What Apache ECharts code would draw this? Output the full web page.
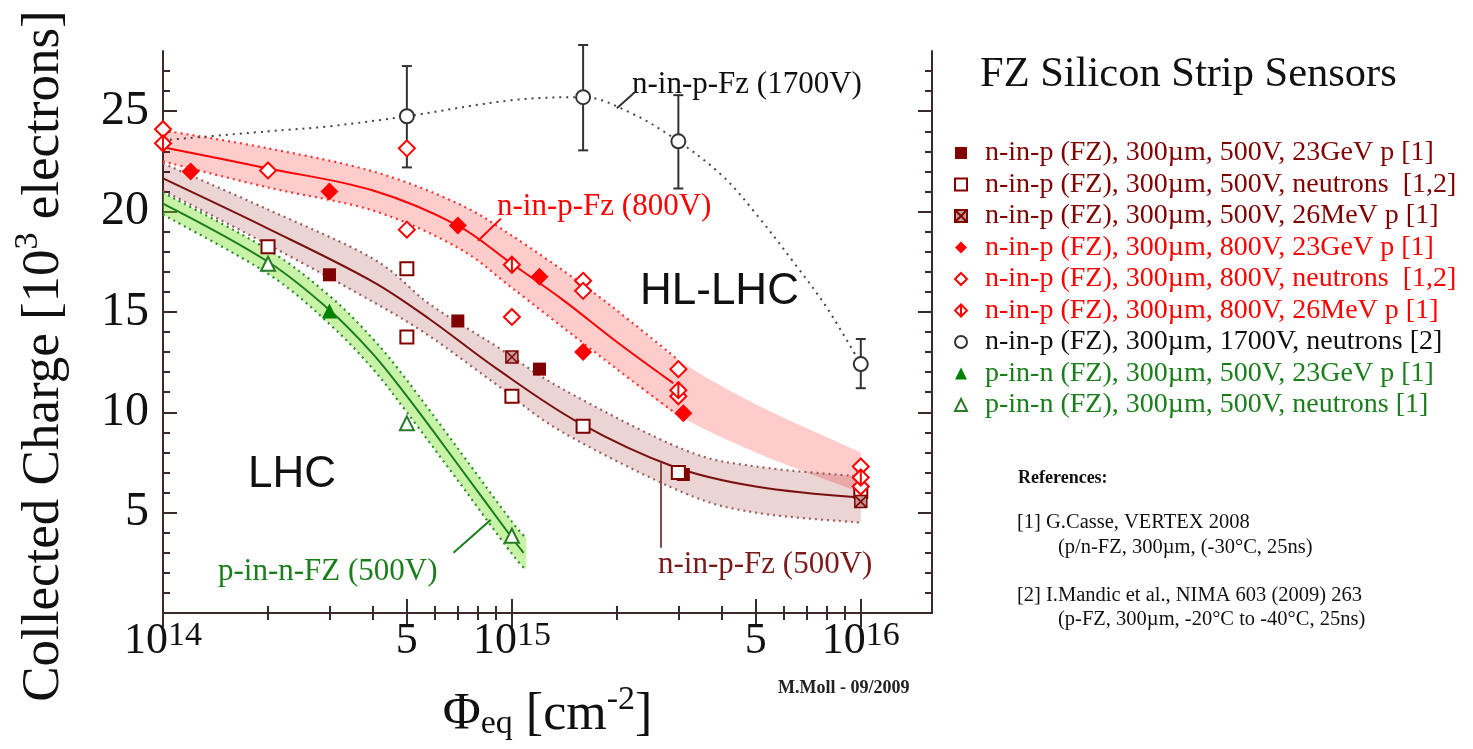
<!DOCTYPE html>
<html>
<head>
<meta charset="utf-8">
<script src="https://cdn.jsdelivr.net/npm/echarts@6/dist/echarts.min.js"></script>
<style>
html,body{margin:0;padding:0;background:#fff;}
#chart{width:1473px;height:749px;}
</style>
</head>
<body>
<div id="chart"></div>
<script>
// Fluence in cm^-2 (x), collected charge in 10^3 electrons (y)

// axis ticks
const xMajorTicks = [1e14, 5e14, 1e15, 5e15, 1e16];
const xMinorTicks = [2e14, 3e14, 4e14, 6e14, 7e14, 8e14, 9e14, 2e15, 3e15, 4e15, 6e15, 7e15, 8e15, 9e15];
const yMajorTicks = [5, 10, 15, 20, 25];
const yMinorTicks = [1, 2, 3, 4, 6, 7, 8, 9, 11, 12, 13, 14, 16, 17, 18, 19, 21, 22, 23, 24, 26, 27];

// measurements
const np500Proton  = [[3e14, 16.85], [7e14, 14.55], [1.2e15, 12.15], [3.1e15, 6.9]];
const np500Neutron = [[2e14, 18.25], [5e14, 17.15], [5e14, 13.75], [1e15, 10.8], [1.6e15, 9.3], [3e15, 7.0], [1e16, 6.05]];
const np500LowE    = [[1e15, 12.75], [1e16, 5.55]];
const np800Proton  = [[1.2e14, 22.0], [3e14, 21.0], [7e14, 19.3], [1.2e15, 16.75], [1.6e15, 13.0], [3.1e15, 9.95]];
const np800Neutron = [[1e14, 24.1], [2e14, 22.05], [5e14, 23.15], [5e14, 19.1], [1e15, 14.75], [1.6e15, 16.55], [1.6e15, 16.05], [3e15, 12.15], [3e15, 10.8], [1e16, 7.3], [1e16, 6.3]];
const np800LowE    = [[1e14, 23.4], [1e15, 17.35], [3e15, 11.1], [1e16, 6.75]];
const np1700Neutron = [[5e14, 24.75], [1.6e15, 25.7], [3e15, 23.5], [1e16, 12.4]];
const np1700ErrLow  = [22.2, 23.05, 21.15, 11.2];
const np1700ErrHigh = [27.25, 28.3, 25.8, 13.65];
const pn500Proton  = [[3e14, 15.05]];
const pn500Neutron = [[2e14, 17.4], [5e14, 9.45], [1e15, 3.85]];

// fitted curves and uncertainty bands
const fit800X = [1e14, 2e14, 4e14, 7e14, 1e15, 1.4e15, 2e15, 2.9e15];
const fit800Y = [23.2, 22.15, 21.05, 19.3, 17.4, 15.6, 13.5, 11.45];
const band800X  = [1e14, 2e14, 4e14, 7e14, 1e15, 1.6e15, 2.2e15, 3e15, 5e15, 1e16];
const band800Hi = [24.05, 23.15, 22.0, 20.4, 18.8, 16.35, 14.5, 12.6, 10.4, 8.0];
const band800Lo = [22.5, 21.2, 20.05, 18.2, 16.2, 13.45, 11.6, 9.85, 8.0, 6.0];

const fit500X = [1e14, 2e14, 4e14, 5.8e14, 9e14, 1.55e15, 2.9e15, 5e15, 1e16];
const fit500Y = [21.65, 19.15, 16.5, 14.65, 12.2, 9.5, 7.3, 6.3, 5.75];
const band500X  = [1e14, 2e14, 4e14, 5.8e14, 9e14, 1.4e15, 3.1e15, 5e15, 1e16];
const band500Hi = [22.4, 20.1, 17.65, 15.4, 13.3, 11.15, 8.15, 7.3, 6.8];
const band500Lo = [21.05, 18.35, 15.5, 13.8, 11.4, 9.0, 6.0, 5.0, 4.5];

const fitPnX = [1e14, 2e14, 3e14, 4e14, 5e14, 7e14, 1e15, 1.08e15];
const fitPnY = [20.4, 17.5, 15.1, 12.9, 10.8, 7.4, 3.75, 3.0];
const bandPnX  = [1e14, 2e14, 3e14, 4e14, 5e14, 7e14, 1e15, 1.1e15];
const bandPnHi = [20.95, 18.1, 15.8, 13.65, 11.6, 8.2, 4.55, 3.75];
const bandPnLo = [19.85, 16.9, 14.4, 12.15, 10.0, 6.6, 2.95, 2.15];

const trend1700X = [1e14, 2e14, 3e14, 5e14, 1e15, 1.6e15, 2.2e15, 3e15, 4e15, 5e15, 6.5e15, 8e15, 1e16];
const trend1700Y = [23.55, 24.0, 24.25, 24.75, 25.55, 25.7, 24.9, 23.5, 21.8, 19.9, 17.35, 15.2, 12.4];

const legendNames = [
  'n-in-p (FZ), 300µm, 500V, 23GeV p [1]',
  'n-in-p (FZ), 300µm, 500V, neutrons  [1,2]',
  'n-in-p (FZ), 300µm, 500V, 26MeV p [1]',
  'n-in-p (FZ), 300µm, 800V, 23GeV p [1]',
  'n-in-p (FZ), 300µm, 800V, neutrons  [1,2]',
  'n-in-p (FZ), 300µm, 800V, 26MeV p [1]',
  'n-in-p (FZ), 300µm, 1700V, neutrons [2]',
  'p-in-n (FZ), 300µm, 500V, 23GeV p [1]',
  'p-in-n (FZ), 300µm, 500V, neutrons [1]'
];

const serif = '"Liberation Serif", "Times New Roman", serif';
const sans = '"Liberation Sans", Arial, sans-serif';
const axisColor = '#3b2a2a';
const maroon = '#800000', red = '#ff0000', green = '#008000', dark = '#333333';
const legendColors = [maroon, maroon, maroon, red, red, red, '#111111', '#1a7f1a', '#1a7f1a'];

const crossSquare = 'path://M0,0H10V10H0Z M0,0L10,10 M10,0L0,10';
const crossDiamond = 'path://M5,0L10,5L5,10L0,5Z M5,0L5,10';

const zip = (xs, ys) => xs.map((x, i) => [x, ys[i]]);

// Catmull-Rom spline through pixel points, as SVG path commands
function splinePath(pts, move) {
  let d = (move ? 'M' : 'L') + pts[0][0] + ',' + pts[0][1];
  for (let i = 0; i < pts.length - 1; i++) {
    const p0 = pts[i - 1] || pts[i], p1 = pts[i], p2 = pts[i + 1], p3 = pts[i + 2] || pts[i + 1];
    const c1x = p1[0] + (p2[0] - p0[0]) / 6, c1y = p1[1] + (p2[1] - p0[1]) / 6;
    const c2x = p2[0] - (p3[0] - p1[0]) / 6, c2y = p2[1] - (p3[1] - p1[1]) / 6;
    d += 'C' + c1x + ',' + c1y + ' ' + c2x + ',' + c2y + ' ' + p2[0] + ',' + p2[1];
  }
  return d;
}

// shaded uncertainty band with dotted edges (edges drawn up to the edgeEnd fluence)
function band(xs, hi, lo, fill, edgeColor, edgeEnd) {
  return {
    type: 'custom', silent: true, z: 1,
    data: xs.map((x, i) => [x, lo[i], hi[i]]),
    encode: { x: 0, y: [1, 2] },
    renderItem: function (params, api) {
      if (params.dataIndex !== 0) return null;
      const up = xs.map((x, i) => api.coord([x, hi[i]]));
      const dn = xs.map((x, i) => api.coord([x, lo[i]]));
      const n = xs.filter(x => x <= edgeEnd).length;
      const children = [{
        type: 'path',
        shape: { pathData: splinePath(up, true) + splinePath(dn.slice().reverse(), false) + 'Z' },
        style: { fill: fill, stroke: 'none' }
      }];
      [up, dn].forEach(function (p) {
        children.push({
          type: 'path',
          shape: { pathData: splinePath(p.slice(0, n), true) },
          style: { fill: 'none', stroke: edgeColor, lineWidth: 2.2, lineDash: [2, 4] }
        });
      });
      return { type: 'group', children: children };
    }
  };
}
function curve(name, data, color, type, width, z) {
  return { type: 'line', name: name, data: data, smooth: 0.35, symbol: 'none',
    lineStyle: { color: color, width: width, type: type }, silent: true, z: z };
}
function marks(name, data, symbol, size, fill, stroke, bw) {
  return { type: 'scatter', name: name, data: data, symbol: symbol, symbolSize: size,
    itemStyle: { color: fill, borderColor: stroke, borderWidth: bw, opacity: 1 }, z: 6 };
}
function leader(coords, color) {
  return { type: 'line', data: [], silent: true, z: 4,
    markLine: { silent: true, symbol: 'none', animation: false, label: { show: false },
      lineStyle: { color: color, width: 2, type: 'solid' },
      data: [[{ coord: coords[0] }, { coord: coords[1] }]] } };
}

function xLabel(v) {
  const e = Math.floor(Math.log10(v) + 1e-9);
  const m = Math.round(v / Math.pow(10, e));
  return m === 1 ? '{b|10}{s|' + e + '}' : '{b|' + m + '}';
}

const xBase = { type: 'log', logBase: 10, min: 1e14, max: 1.6e16, splitLine: { show: false }, minorTick: { show: false } };
const yBase = { type: 'value', min: 0, max: 28, splitLine: { show: false } };
const lineSt = { color: axisColor, width: 2 };

function textEl(x, y, text, font, fill) {
  return { type: 'text', x: x, y: y, style: { text: text, font: font, fill: fill, verticalAlign: 'middle', textVerticalAlign: 'middle' } };
}

const option = {
  animation: false,
  backgroundColor: '#ffffff',
  grid: { left: 163, top: 51, width: 769, height: 562 },
  xAxis: [
    Object.assign({}, xBase, {
      position: 'bottom',
      axisLine: { show: true, lineStyle: lineSt },
      axisTick: { show: true, inside: true, length: 14, customValues: xMajorTicks, lineStyle: lineSt },
      axisLabel: { customValues: xMajorTicks, formatter: xLabel, margin: 6, color: '#111',
        rich: {
          b: { fontFamily: serif, fontSize: 44, color: '#111', verticalAlign: 'bottom' },
          s: { fontFamily: serif, fontSize: 34, color: '#111', verticalAlign: 'bottom', padding: [0, 0, 10, 0] }
        } },
      name: '{a|Φ}{sub|eq}{a| [cm}{sup|-2}{a|]}',
      nameLocation: 'middle', nameGap: 70,
      nameTextStyle: { rich: {
        a: { fontFamily: serif, fontSize: 52, color: '#111', verticalAlign: 'bottom' },
        sub: { fontFamily: serif, fontSize: 34, color: '#111', verticalAlign: 'bottom', padding: [10, 0, 0, 0] },
        sup: { fontFamily: serif, fontSize: 34, color: '#111', verticalAlign: 'bottom', padding: [0, 0, 24, 0] }
      } }
    }),
    Object.assign({}, xBase, {
      position: 'bottom',
      axisLine: { show: false },
      axisTick: { show: true, inside: true, length: 7, customValues: xMinorTicks, lineStyle: lineSt },
      axisLabel: { show: false }
    }),
    Object.assign({}, xBase, {
      position: 'top',
      axisLine: { show: true, lineStyle: lineSt },
      axisTick: { show: true, inside: true, length: 14, customValues: xMajorTicks, lineStyle: lineSt },
      axisLabel: { show: false }
    }),
    Object.assign({}, xBase, {
      position: 'top',
      axisLine: { show: false },
      axisTick: { show: true, inside: true, length: 7, customValues: xMinorTicks, lineStyle: lineSt },
      axisLabel: { show: false }
    })
  ],
  yAxis: [
    Object.assign({}, yBase, {
      position: 'left',
      axisLine: { show: true, lineStyle: lineSt },
      axisTick: { show: true, inside: true, length: 14, customValues: yMajorTicks, lineStyle: lineSt },
      axisLabel: { customValues: yMajorTicks, margin: 14, fontFamily: serif, fontSize: 48, color: '#111' },
      name: '{a|Collected Charge [10}{s|3}{a| electrons]}',
      nameLocation: 'middle', nameRotate: 90, nameGap: 92,
      nameTextStyle: { padding: [0, 48, 0, 0], rich: {
        a: { fontFamily: serif, fontSize: 53, color: '#111', verticalAlign: 'bottom' },
        s: { fontFamily: serif, fontSize: 34, color: '#111', verticalAlign: 'bottom', padding: [0, 0, 26, 0] }
      } }
    }),
    Object.assign({}, yBase, {
      position: 'left',
      axisLine: { show: false },
      axisTick: { show: true, inside: true, length: 7, customValues: yMinorTicks, lineStyle: lineSt },
      axisLabel: { show: false }
    }),
    Object.assign({}, yBase, {
      position: 'right',
      axisLine: { show: true, lineStyle: lineSt },
      axisTick: { show: true, inside: true, length: 14, customValues: yMajorTicks, lineStyle: lineSt },
      axisLabel: { show: false }
    }),
    Object.assign({}, yBase, {
      position: 'right',
      axisLine: { show: false },
      axisTick: { show: true, inside: true, length: 7, customValues: yMinorTicks, lineStyle: lineSt },
      axisLabel: { show: false }
    })
  ],
  legend: {
    orient: 'vertical', left: 949, top: 134,
    itemWidth: 12, itemHeight: 12, itemGap: 3.5,
    selectedMode: false,
    textStyle: { fontFamily: serif, fontSize: 28, lineHeight: 28, padding: [0, 0, 0, 13] },
    data: legendNames.map((n, i) => ({ name: n, textStyle: { color: legendColors[i] } }))
  },
  series: [
    band(band800X, band800Hi, band800Lo, 'rgba(255,0,0,0.2)', '#ff3030', 3e15),
    band(band500X, band500Hi, band500Lo, 'rgba(128,0,0,0.17)', '#9a6060', 1e16),
    band(bandPnX, bandPnHi, bandPnLo, 'rgba(110,220,20,0.38)', '#2e8b2e', 1.1e15),
    curve('trend 1700V', zip(trend1700X, trend1700Y), '#444444', [2, 5], 2, 2),
    curve('fit 800V', zip(fit800X, fit800Y), red, 'solid', 2, 3),
    curve('fit 500V', zip(fit500X, fit500Y), '#7a1010', 'solid', 2, 3),
    curve('fit p-in-n', zip(fitPnX, fitPnY), '#1a7f1a', 'solid', 2, 3),
    leader([[2.0e15, 25.15], [2.25e15, 25.95]], '#333333'),
    leader([[8.0e14, 18.55], [9.3e14, 19.65]], red),
    leader([[6.8e14, 3.0], [8.7e14, 4.65]], '#1a7f1a'),
    leader([[2.67e15, 7.5], [2.67e15, 3.25]], '#8a4a4a'),
    {
      type: 'custom', name: 'error bars', silent: true, clip: false, z: 5,
      data: np1700Neutron.map((p, i) => [p[0], np1700ErrLow[i], np1700ErrHigh[i]]),
      encode: { x: 0, y: [1, 2] },
      renderItem: function (params, api) {
        const lo = api.coord([api.value(0), api.value(1)]);
        const hi = api.coord([api.value(0), api.value(2)]);
        const st = { stroke: '#333333', lineWidth: 2 };
        return { type: 'group', children: [
          { type: 'line', shape: { x1: lo[0], y1: lo[1], x2: hi[0], y2: hi[1] }, style: st },
          { type: 'line', shape: { x1: lo[0] - 5, y1: lo[1], x2: lo[0] + 5, y2: lo[1] }, style: st },
          { type: 'line', shape: { x1: hi[0] - 5, y1: hi[1], x2: hi[0] + 5, y2: hi[1] }, style: st }
        ] };
      }
    },
    marks(legendNames[0], np500Proton, 'rect', 13, maroon, maroon, 0),
    marks(legendNames[1], np500Neutron, 'rect', 13, '#ffffff', maroon, 2),
    marks(legendNames[2], np500LowE, crossSquare, 12, '#c49a9a', maroon, 1.5),
    marks(legendNames[3], np800Proton, 'diamond', 18, red, red, 0),
    marks(legendNames[4], np800Neutron, 'diamond', 16, '#ffffff', red, 2),
    marks(legendNames[5], np800LowE, crossDiamond, 16, '#ffffff', red, 2),
    marks(legendNames[6], np1700Neutron, 'circle', 14, '#ffffff', dark, 2),
    marks(legendNames[7], pn500Proton, 'triangle', 15, green, green, 0),
    marks(legendNames[8], pn500Neutron, 'triangle', 14, '#ffffff', '#2a7a2a', 2)
  ],
  graphic: [
    textEl(980, 75, 'FZ Silicon Strip Sensors', '42.5px ' + serif, '#111'),
    textEl(632, 85, 'n-in-p-Fz (1700V)', '31px ' + serif, '#111'),
    textEl(497, 207, 'n-in-p-Fz (800V)', '31px ' + serif, red),
    textEl(640, 292, 'HL-LHC', '44px ' + sans, '#111'),
    textEl(248, 475, 'LHC', '44px ' + sans, '#111'),
    textEl(218, 572, 'p-in-n-FZ (500V)', '31px ' + serif, '#1a7f1a'),
    textEl(658, 565, 'n-in-p-Fz (500V)', '31px ' + serif, '#7a1a1a'),
    textEl(778, 688, 'M.Moll - 09/2009', 'bold 18px ' + serif, '#222'),
    textEl(1018, 478, 'References:', 'bold 18px ' + serif, '#111'),
    textEl(1017, 523, '[1] G.Casse, VERTEX 2008', '20.5px ' + serif, '#111'),
    textEl(1058, 548, '(p/n-FZ, 300µm, (-30°C, 25ns)', '20.5px ' + serif, '#111'),
    textEl(1017, 596, '[2] I.Mandic et al., NIMA 603 (2009) 263', '20.5px ' + serif, '#111'),
    textEl(1058, 620, '(p-FZ, 300µm, -20°C to -40°C, 25ns)', '20.5px ' + serif, '#111')
  ]
};

const chart = echarts.init(document.getElementById('chart'), null, { renderer: 'canvas' });
chart.setOption(option);
</script>
</body>
</html>
